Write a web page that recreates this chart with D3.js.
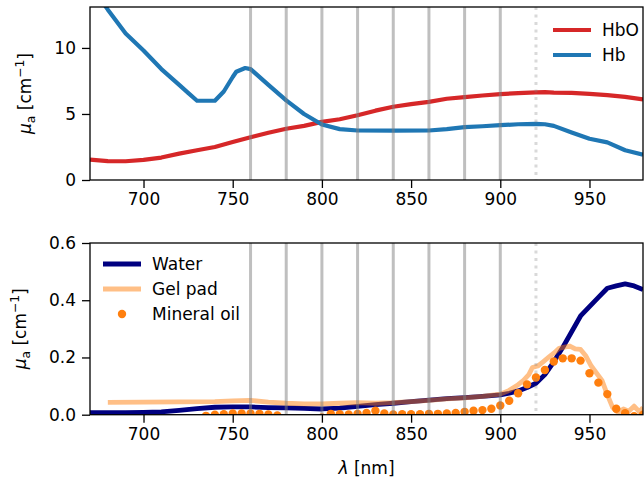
<!DOCTYPE html>
<html lang="en">
<head>
  <meta charset="utf-8">
  <title>Absorption spectra</title>
  <script src="https://d3js.org/d3.v7.min.js"></script>
  <style type="text/css">
    body { margin: 0; background: #fff; }
    text { font-family: "DejaVu Sans", sans-serif; fill: #000; }
  </style>
</head>
<body>
  <svg width="644" height="479"></svg>

  <script type="text/javascript" charset="utf-8">
    // wavelengths of the fNIRS channels, plus the dotted one
    var channels = [760, 780, 800, 820, 840, 860, 880, 900];
    var dottedChannel = 920;

    var xTicks = [700, 750, 800, 850, 900, 950];
    var topTicks = [0, 5, 10];
    var bottomTicks = [0, 0.2, 0.4, 0.6];

    // Hb / HbO
    var hbLambda = [670, 680, 690, 700, 710, 720, 725, 730, 740, 745, 750, 752, 757, 760, 770, 780, 790, 800, 810, 820, 840, 860, 870, 880, 890, 900, 910, 920, 925, 930, 940, 950, 960, 970, 980];
    var hbValues = [14.8, 12.9, 11.1, 9.8, 8.4, 7.2, 6.6, 6.0, 6.0, 6.7, 7.8, 8.2, 8.48, 8.4, 7.2, 6.03, 5.0, 4.2, 3.85, 3.75, 3.74, 3.75, 3.85, 4.0, 4.07, 4.15, 4.22, 4.25, 4.22, 4.1, 3.6, 3.12, 2.85, 2.25, 1.92];

    var hboLambda = [670, 680, 690, 700, 710, 720, 730, 740, 750, 760, 770, 780, 790, 800, 810, 820, 830, 840, 850, 860, 870, 880, 890, 900, 910, 920, 925, 930, 940, 950, 960, 970, 980];
    var hboValues = [1.54, 1.43, 1.42, 1.52, 1.7, 2.0, 2.25, 2.5, 2.88, 3.24, 3.58, 3.88, 4.1, 4.4, 4.6, 4.9, 5.25, 5.55, 5.75, 5.92, 6.15, 6.28, 6.4, 6.5, 6.58, 6.64, 6.66, 6.62, 6.6, 6.52, 6.43, 6.3, 6.1];

    // water, gel pad, mineral oil
    var waterLambda = [670, 690, 700, 710, 720, 730, 740, 750, 760, 770, 780, 790, 800, 810, 820, 830, 840, 850, 860, 870, 880, 890, 900, 905, 910, 915, 920, 925, 930, 935, 940, 945, 950, 955, 960, 965, 970, 975, 980];
    var waterValues = [0.007, 0.007, 0.008, 0.01, 0.015, 0.021, 0.026, 0.027, 0.027, 0.025, 0.024, 0.022, 0.02, 0.023, 0.029, 0.035, 0.04, 0.046, 0.051, 0.056, 0.06, 0.064, 0.069, 0.075, 0.083, 0.095, 0.11, 0.14, 0.185, 0.235, 0.29, 0.345, 0.378, 0.41, 0.442, 0.45, 0.457, 0.45, 0.437];

    var gelLambda = [680, 700, 720, 740, 750, 760, 770, 780, 790, 800, 810, 820, 830, 840, 850, 860, 870, 880, 890, 900, 905, 910, 913, 916, 918, 921, 924, 927, 930, 933, 936, 939, 942, 945, 948, 951, 954, 957, 960, 963, 966, 969, 972, 975, 978, 980];
    var gelValues = [0.043, 0.044, 0.045, 0.046, 0.048, 0.05, 0.044, 0.04, 0.038, 0.038, 0.04, 0.042, 0.04, 0.042, 0.046, 0.05, 0.055, 0.059, 0.064, 0.072, 0.085, 0.105, 0.12, 0.14, 0.165, 0.17, 0.185, 0.2, 0.215, 0.232, 0.236, 0.24, 0.23, 0.228, 0.205, 0.17, 0.145, 0.12, 0.07, 0.025, 0.008, 0.02, 0.012, 0.03, 0.01, 0.025];

    var oilLambda = [735, 740, 745, 750, 755, 760, 765, 770, 775, 780, 785, 790, 795, 800, 805, 810, 815, 820, 825, 830, 835, 840, 845, 850, 855, 860, 865, 870, 875, 880, 885, 890, 895, 900, 905, 910, 915, 920, 925, 930, 935, 940, 945, 950, 955, 960, 965, 970, 975, 980];
    var oilValues = [-0.004, 0.0, 0.002, 0.004, 0.004, 0.004, 0.003, 0.001, -0.003, -0.02, -0.02, -0.02, -0.02, -0.01, 0.003, 0.002, 0.001, 0.003, 0.006, 0.014, 0.004, 0.001, 0.002, 0.002, 0.002, 0.003, 0.003, 0.004, 0.006, 0.01, 0.014, 0.016, 0.021, 0.032, 0.049, 0.075, 0.106, 0.13, 0.156, 0.186, 0.197, 0.197, 0.189, 0.145, 0.112, 0.072, 0.021, 0.005, -0.005, 0.0];

    var svg = d3.select("svg"),
      left = 90,
      right = 643,
      fontSize = 17;

    var x = d3.scaleLinear().domain([670, 980]).range([left, right]);

    function zip(xs, ys) {
      return xs.map((l, i) => [l, ys[i]]);
    }

    function panel(id, top, bottom, yDomain, ticks, fmt) {
      var y = d3.scaleLinear().domain(yDomain).range([bottom, top]);
      var g = svg.append("g");

      g.append("clipPath").attr("id", id)
        .append("rect")
        .attr("x", left).attr("y", top)
        .attr("width", right - left).attr("height", bottom - top);

      var plot = g.append("g").attr("clip-path", `url(#${id})`);

      var xAxis = g.append("g")
        .attr("transform", `translate(0,${bottom})`)
        .call(d3.axisBottom(x).tickValues(xTicks).tickSize(8).tickPadding(5).tickSizeOuter(0));
      var yAxis = g.append("g")
        .attr("transform", `translate(${left},0)`)
        .call(d3.axisLeft(y).tickValues(ticks).tickFormat(fmt).tickSize(8).tickPadding(6).tickSizeOuter(0));

      [xAxis, yAxis].forEach(a => {
        a.attr("font-size", fontSize).attr("font-family", "DejaVu Sans");
        a.select(".domain").remove();
        a.selectAll("line").attr("stroke", "#000").attr("stroke-width", 1.3);
      });

      return { g: g, plot: plot, y: y, top: top, bottom: bottom };
    }

    function drawChannels(p) {
      p.plot.selectAll(".ch").data(channels).enter().append("line")
        .attr("x1", d => x(d)).attr("x2", d => x(d))
        .attr("y1", p.top).attr("y2", p.bottom)
        .attr("stroke", "#808080").attr("stroke-opacity", 0.5).attr("stroke-width", 3);

      p.plot.append("line")
        .attr("x1", x(dottedChannel)).attr("x2", x(dottedChannel))
        .attr("y1", p.top).attr("y2", p.bottom)
        .attr("stroke", "#808080").attr("stroke-opacity", 0.3).attr("stroke-width", 3)
        .attr("stroke-dasharray", "3,4.5");
    }

    function frame(p) {
      p.g.append("rect")
        .attr("x", left).attr("y", p.top)
        .attr("width", right - left).attr("height", p.bottom - p.top)
        .attr("fill", "none").attr("stroke", "#000").attr("stroke-width", 1.3);
    }

    function yLabel(p, cx) {
      var t = p.g.append("text")
        .attr("transform", `translate(${cx},${(p.top + p.bottom) / 2}) rotate(-90)`)
        .attr("text-anchor", "middle")
        .attr("font-size", fontSize);
      t.append("tspan").attr("font-style", "italic").text("μ");
      t.append("tspan").attr("font-size", fontSize * 0.72).attr("dy", 4).text("a");
      t.append("tspan").attr("dy", -4).text(" [cm");
      t.append("tspan").attr("font-size", fontSize * 0.72).attr("dy", -7).text("−1");
      t.append("tspan").attr("dy", 7).text("]");
    }

    function legend(p, items, lx, ly) {
      items.forEach((it, i) => {
        var yy = ly + i * 25;
        if (it.dot) {
          p.g.append("circle").attr("cx", lx + 19).attr("cy", yy).attr("r", 4.2).attr("fill", it.color);
        } else {
          p.g.append("line")
            .attr("x1", lx).attr("x2", lx + 38).attr("y1", yy).attr("y2", yy)
            .attr("stroke", it.color).attr("stroke-opacity", it.opacity || 1)
            .attr("stroke-width", it.width);
        }
        p.g.append("text").attr("x", lx + 49).attr("y", yy).attr("dy", "0.36em")
          .attr("font-size", fontSize).text(it.label);
      });
    }

    // ---- top panel: haemoglobin
    var hbPanel = panel("clipTop", 7, 180, [0, 13.1], topTicks, d3.format("d"));
    var lineTop = d3.line().x(d => x(d[0])).y(d => hbPanel.y(d[1]));

    hbPanel.plot.append("path").datum(zip(hboLambda, hboValues))
      .attr("d", lineTop).attr("fill", "none")
      .attr("stroke", "#d62728").attr("stroke-width", 4.2).attr("stroke-linejoin", "round");
    hbPanel.plot.append("path").datum(zip(hbLambda, hbValues))
      .attr("d", lineTop).attr("fill", "none")
      .attr("stroke", "#1f77b4").attr("stroke-width", 4.2).attr("stroke-linejoin", "round");

    drawChannels(hbPanel);
    frame(hbPanel);
    yLabel(hbPanel, 31);
    legend(hbPanel, [
      { label: "HbO", color: "#d62728", width: 4.2 },
      { label: "Hb", color: "#1f77b4", width: 4.2 }
    ], 553, 30);

    // ---- bottom panel: phantom materials
    var matPanel = panel("clipBot", 243, 414.7, [0, 0.6], bottomTicks, d3.format(".1f"));
    var lineBot = d3.line().x(d => x(d[0])).y(d => matPanel.y(d[1]));

    matPanel.plot.append("path").datum(zip(waterLambda, waterValues))
      .attr("d", lineBot).attr("fill", "none")
      .attr("stroke", "#000080").attr("stroke-width", 4.8).attr("stroke-linejoin", "round");
    matPanel.plot.append("path").datum(zip(gelLambda, gelValues))
      .attr("d", lineBot).attr("fill", "none")
      .attr("stroke", "#ff7f0e").attr("stroke-opacity", 0.5)
      .attr("stroke-width", 4.8).attr("stroke-linejoin", "round");
    matPanel.plot.selectAll(".oil").data(zip(oilLambda, oilValues)).enter().append("circle")
      .attr("cx", d => x(d[0])).attr("cy", d => matPanel.y(d[1]))
      .attr("r", 4.2).attr("fill", "#ff7f0e");

    drawChannels(matPanel);
    frame(matPanel);
    yLabel(matPanel, 26);
    legend(matPanel, [
      { label: "Water", color: "#000080", width: 4.8 },
      { label: "Gel pad", color: "#ff7f0e", opacity: 0.5, width: 4.8 },
      { label: "Mineral oil", color: "#ff7f0e", dot: true }
    ], 103, 264);

    var xl = matPanel.g.append("text")
      .attr("x", (left + right) / 2).attr("y", 474)
      .attr("text-anchor", "middle").attr("font-size", fontSize);
    xl.append("tspan").attr("font-style", "italic").text("λ");
    xl.append("tspan").text(" [nm]");
  </script>
</body>
</html>
